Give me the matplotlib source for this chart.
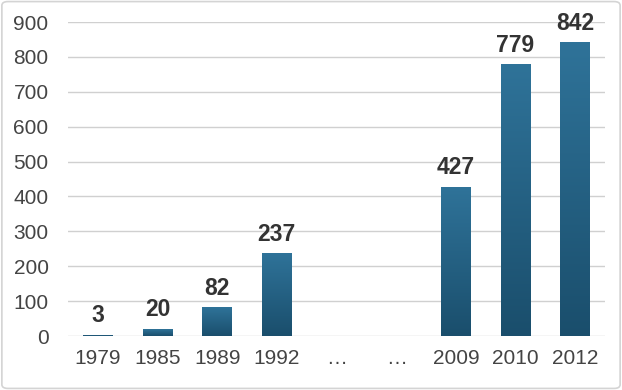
import matplotlib
matplotlib.use("Agg")
import matplotlib.pyplot as plt
import numpy as np
from matplotlib.patches import FancyBboxPatch
from matplotlib.colors import LinearSegmentedColormap

categories = ["1979", "1985", "1989", "1992", "…", "…", "2009", "2010", "2012"]
values = [3, 20, 82, 237, None, None, 427, 779, 842]
yticks = [0, 100, 200, 300, 400, 500, 600, 700, 800, 900]

plt.rcParams['font.family'] = ['Liberation Sans', 'DejaVu Sans']

fig = plt.figure(figsize=(6.22, 3.9), dpi=100)
ax = fig.add_axes([68/622, 1 - 336/390, (605-68)/622, (336-22)/390])

x = np.arange(len(categories))
heights = [v if v is not None else 0 for v in values]
bars = ax.bar(x, heights, width=0.5, color='#25648a', zorder=2, linewidth=0)

cmap = LinearSegmentedColormap.from_list('g', ['#1a4e6c', '#2f7399'])
grad = np.linspace(0, 1, 256).reshape(-1, 1)
for b, v in zip(bars, values):
    if v is None:
        b.set_visible(False)
        continue
    xx, w, h = b.get_x(), b.get_width(), b.get_height()
    im = ax.imshow(grad, cmap=cmap, aspect='auto', origin='lower',
                   extent=[xx, xx + w, 0, max(h, 0.001)], zorder=3)
    im.set_clip_path(b)
    ax.text(b.get_x() + w / 2, h + 22, str(v), ha='center', va='bottom',
            fontsize=16.5, fontweight='bold', color='#333333', zorder=4)

ax.set_xlim(-0.5, len(categories) - 0.5)
ax.set_ylim(0, 900)
ax.set_yticks(yticks)
ax.set_xticks(x)
ax.set_xticklabels(categories)
ax.tick_params(axis='both', length=0, labelsize=15, labelcolor='#444444')
ax.tick_params(axis='y', pad=14)
ax.tick_params(axis='x', pad=9)
ax.grid(axis='y', color='#d0d0d0', linewidth=1, zorder=0)
for s in ax.spines.values():
    s.set_visible(False)
ax.set_axisbelow(True)

border = FancyBboxPatch((0.003, 0.004), 0.994, 0.992, boxstyle='round,pad=0,rounding_size=0.01',
                        transform=fig.transFigure, fill=False, edgecolor='#d4d4d4', linewidth=1.2)
fig.patches.append(border)

fig.savefig('out.png', dpi=100)
